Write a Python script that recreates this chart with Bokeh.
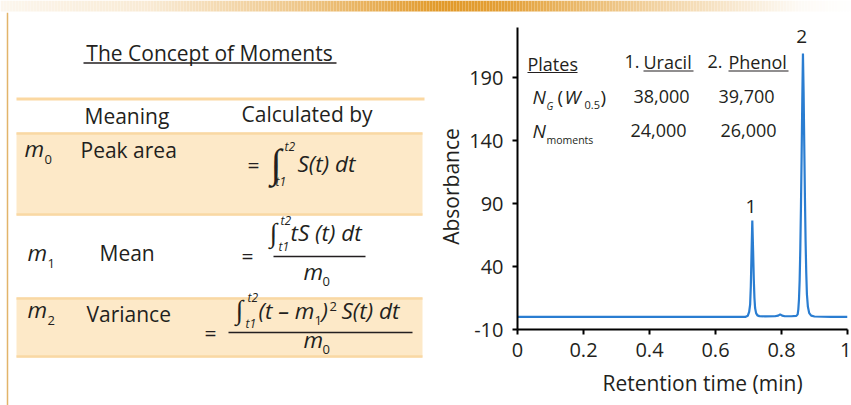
import numpy as np
from bokeh.plotting import figure
from bokeh.layouts import row, column
from bokeh.models import Range1d, FixedTicker
from bokeh.core.properties import value
from bokeh.embed import file_html
from bokeh.resources import INLINE

FONT = "Open Sans"
INT_FONT = "Liberation Serif"
INK = "#231f20"
BAND = "#fde9c8"
BAND_EDGE = "#f9d8a4"
TRACE = "#2a7dd1"
DROP = 0.38  # alphabetic-baseline correction, as a fraction of the font size

# ---- chromatogram: retention time (min) vs absorbance ----
time_min = [0.000, 0.100, 0.200, 0.300, 0.400, 0.500, 0.600, 0.690, 0.698, 0.702,
            0.705, 0.707, 0.709, 0.7115, 0.714, 0.716, 0.718, 0.720, 0.723, 0.727,
            0.733, 0.750, 0.780, 0.790, 0.796, 0.802, 0.810, 0.830, 0.845, 0.849,
            0.851, 0.853, 0.855, 0.857, 0.859, 0.861, 0.863, 0.865, 0.867, 0.869,
            0.871, 0.873, 0.875, 0.877, 0.880, 0.884, 0.890, 0.900, 0.950, 1.000]
absorbance = [0.0, 0.0, 0.0, 0.0, 0.0, 0.0, 0.0, 0.0, 1.0, 4.0,
              10.0, 24.0, 48.0, 76.5, 52.0, 30.0, 15.0, 7.0, 3.0, 1.2,
              0.6, 0.4, 0.5, 1.0, 2.0, 1.0, 0.5, 0.5, 0.8, 2.0,
              6.0, 14.0, 29.0, 54.0, 88.0, 128.0, 172.0, 209.0, 178.0, 136.0,
              95.0, 60.0, 35.0, 18.0, 8.0, 3.0, 1.0, 0.3, 0.0, 0.0]

# ---- plate counts ----
compounds = ["Uracil", "Phenol"]
plates_gauss = ["38,000", "39,700"]
plates_moments = ["24,000", "26,000"]

# ---- moments table ----
moment_orders = ["0", "1", "2"]
moment_meanings = ["Peak area", "Mean", "Variance"]

# ---- axes ----
y_ticks = [-10, 40, 90, 140, 190]
y_tick_labels = ["-10", "40", "90", "140", "190"]
x_ticks = [0.0, 0.2, 0.4, 0.6, 0.8, 1.0]
x_tick_labels = ["0", "0.2", "0.4", "0.6", "0.8", "1"]

LEFT_W = 465
RIGHT_W = 851 - LEFT_W
FRAME_L, FRAME_R = 517, 847          # page x of the chromatogram frame
BORDER_L, BORDER_R = FRAME_L - LEFT_W, 851 - FRAME_R


def txt(fig, x, y, s, size=21, style="normal", align="left",
        color=INK, font=FONT, angle=0.0):
    """Place text with its baseline at page pixel (x, y)."""
    if angle:
        x = x - DROP * size
    else:
        y = y - DROP * size
    fig.text(x=[x], y=[y], text=[s], text_font=value(font), text_font_size=f"{size}px",
             text_font_style=style, text_align=align, text_baseline="alphabetic",
             text_color=color, angle=angle)


def blank(width, height, xr, yr, **borders):
    opts = dict(min_border=0)
    opts.update(borders)
    f = figure(width=width, height=height, x_range=Range1d(*xr), y_range=Range1d(*yr),
               output_backend="svg", toolbar_location=None,
               x_axis_type=None, y_axis_type=None, **opts)
    f.grid.visible = False
    f.outline_line_color = None
    f.background_fill_color = "white"
    f.border_fill_color = "white"
    return f


# ---- decorative banner across the top ----
strip = blank(851, 12, (0, 851), (0, 12))
xs = np.arange(0, 851, 3)
wx = [0, 150, 300, 440, 500, 650, 800, 851]
wv = [0.08, 0.2, 0.55, 1.0, 0.95, 0.45, 0.04, 0.0]
w = np.interp(xs + 1.5, wx, wv)
base = np.array([226, 154, 42])
cols = ["#%02x%02x%02x" % tuple((255 - (255 - base) * k).astype(int)) for k in w]
strip.quad(left=xs, right=xs + 3, bottom=1, top=12, fill_color=cols, line_color=None)

# ---- left panel: the concept of moments ----
L = blank(LEFT_W, 393, (0, LEFT_W), (405, 12))
L.segment(x0=[7], y0=[12], x1=[7], y1=[405], line_color="#e2b46a", line_width=1.5)

txt(L, 209, 60, "The Concept of Moments", align="center")
L.segment(x0=[83], y0=[62.5], x1=[336], y1=[62.5], line_color=INK, line_width=1.3)
L.segment(x0=[16], y0=[98.5], x1=[424], y1=[98.5], line_color="#fbd8a1", line_width=3)
txt(L, 84, 123, "Meaning")
txt(L, 241, 121, "Calculated by")

for top, bot in [(132, 215), (297, 357)]:
    L.quad(left=16, right=422, top=top, bottom=bot, fill_color=BAND, line_color=None)
    L.segment(x0=[16, 16], y0=[top + 1, bot - 1], x1=[422, 422], y1=[top + 1, bot - 1],
              line_color=BAND_EDGE, line_width=2.5)

ITAL = 22.5
# moment symbols and meanings
sym_pos = [(24, 157), (27, 261), (27, 318)]
mean_pos = [(80, 157), (99, 260), (86, 321)]
for (mx, my), order, (tx, ty), meaning in zip(sym_pos, moment_orders, mean_pos, moment_meanings):
    txt(L, mx, my, "m", size=ITAL, style="italic")
    txt(L, mx + 20, my + 7, order, size=13)
    txt(L, tx, ty, meaning)

# m0 = integral S(t) dt
txt(L, 247, 172, "=")
txt(L, 270, 178, "\u222b", size=40, font=INT_FONT)
txt(L, 284, 151, "t2", size=12, style="italic")
txt(L, 275, 186, "t1", size=12, style="italic")
txt(L, 297, 172, "S(t) dt", size=ITAL, style="italic")

# m1 = integral t S(t) dt / m0
txt(L, 241, 263, "=")
txt(L, 269, 243, "\u222b", size=27, font=INT_FONT)
txt(L, 280, 225, "t2", size=12, style="italic")
txt(L, 278, 251, "t1", size=12, style="italic")
txt(L, 290, 241, "tS (t) dt", size=ITAL, style="italic")
L.segment(x0=[273], y0=[256], x1=[365], y1=[256], line_color=INK, line_width=1.5)
txt(L, 303, 280, "m", size=ITAL, style="italic")
txt(L, 322, 286, "0", size=13)

# m2 = integral (t - m1)^2 S(t) dt / m0
txt(L, 204, 340, "=")
txt(L, 235, 320, "\u222b", size=27, font=INT_FONT)
txt(L, 247, 302, "t2", size=12, style="italic")
txt(L, 245, 328, "t1", size=12, style="italic")
txt(L, 258, 319, "(t \u2013 m", size=ITAL, style="italic")
txt(L, 314, 325, "1", size=13)
txt(L, 321, 319, ")", size=ITAL, style="italic")
txt(L, 329, 311, "2", size=13)
txt(L, 341, 319, "S(t) dt", size=ITAL, style="italic")
L.segment(x0=[228], y0=[332], x1=[412], y1=[332], line_color=INK, line_width=1.5)
txt(L, 303, 348, "m", size=ITAL, style="italic")
txt(L, 322, 354, "0", size=13)

# y-axis title of the chromatogram
txt(L, 458, 186, "Absorbance", align="center", angle=np.pi / 2)

# ---- right panel: chromatogram ----
Y0, Y1 = -10, 229.7
P = figure(width=RIGHT_W, height=357, x_range=Range1d(0, 1), y_range=Range1d(Y0, Y1),
           output_backend="svg", toolbar_location=None,
           min_border_left=BORDER_L, min_border_right=BORDER_R,
           min_border_top=15, min_border_bottom=40)
P.grid.visible = False
P.outline_line_color = None
P.background_fill_color = "white"
P.border_fill_color = "white"

for ax in (P.xaxis[0], P.yaxis[0]):
    ax.axis_line_color = "black"
    ax.axis_line_width = 2
    ax.major_tick_line_color = "black"
    ax.major_tick_line_width = 2
    ax.major_tick_out = 5
    ax.major_tick_in = 0
    ax.minor_tick_line_color = None
    ax.major_label_text_font = FONT
    ax.major_label_text_font_size = "20px"
    ax.major_label_text_color = INK
P.xaxis.ticker = FixedTicker(ticks=x_ticks)
P.xaxis.major_label_overrides = dict(zip(x_ticks, x_tick_labels))
P.xaxis.major_label_standoff = 8
P.yaxis.ticker = FixedTicker(ticks=y_ticks)
P.yaxis.major_label_overrides = dict(zip(y_ticks, y_tick_labels))
P.yaxis.major_label_standoff = 9

P.line(time_min, absorbance, line_color=TRACE, line_width=2.2)

# plate-count inset, positioned in frame pixels
FY0 = 329.0
FXS = FRAME_R - FRAME_L
UNITS_PER_PX = (Y1 - Y0) / 302.0


def fx(px):
    return (px - FRAME_L) / FXS


def fy(py):
    return Y0 + (FY0 - py) * UNITS_PER_PX


# peak numbers above each apex
t_arr = np.array(time_min)
a_arr = np.array(absorbance)
for name, mask, gap in zip(["1", "2"], [t_arr < 0.8, t_arr >= 0.8], [5.0, 8.0]):
    i = np.flatnonzero(mask)[np.argmax(a_arr[mask])]
    P.text(x=[t_arr[i] - 0.004], y=[a_arr[i] + gap + DROP * 19 * UNITS_PER_PX],
           text=[name], text_font=value(FONT), text_font_size="19px",
           text_align="center", text_baseline="alphabetic", text_color=INK)


def ptxt(px, py, s, size=18, style="normal", align="left"):
    py = py - DROP * size
    P.text(x=[fx(px)], y=[fy(py)], text=[s], text_font=value(FONT),
           text_font_size=f"{size}px", text_font_style=style, text_align=align,
           text_baseline="alphabetic", text_color=INK)


def uline(x0, x1, py):
    P.segment(x0=[fx(x0)], y0=[fy(py)], x1=[fx(x1)], y1=[fy(py)],
              line_color=INK, line_width=1.2)


ptxt(527, 70, "Plates")
uline(527, 577, 72)
ptxt(624, 68, "1.")
ptxt(643, 68, compounds[0])
uline(643, 693, 70.5)
ptxt(707, 68, "2.")
ptxt(728, 68, compounds[1])
uline(728, 788, 70.5)

ptxt(532, 104, "N", size=19, style="italic")
ptxt(546, 109, "G", size=10, style="italic")
ptxt(557, 104, "(", size=19)
ptxt(564, 104, "W", size=19, style="italic")
ptxt(584, 109, "0.5", size=11)
ptxt(600, 104, ")", size=19)
ptxt(661, 103, plates_gauss[0], align="center")
ptxt(746, 103, plates_gauss[1], align="center")

ptxt(532, 138, "N", size=19, style="italic")
ptxt(546, 143, "moments", size=10.5)
ptxt(658, 137, plates_moments[0], align="center")
ptxt(748, 137, plates_moments[1], align="center")

# x-axis title strip; its frame lines up with the chromatogram frame
XL = blank(RIGHT_W, 36, (FRAME_L, FRAME_R), (405, 369),
           min_border_left=BORDER_L, min_border_right=BORDER_R)
txt(XL, 702, 390, "Retention time (min)", align="center")

layout = column(strip, row(L, column(P, XL)))
open("out.html", "w").write(file_html(layout, INLINE))
